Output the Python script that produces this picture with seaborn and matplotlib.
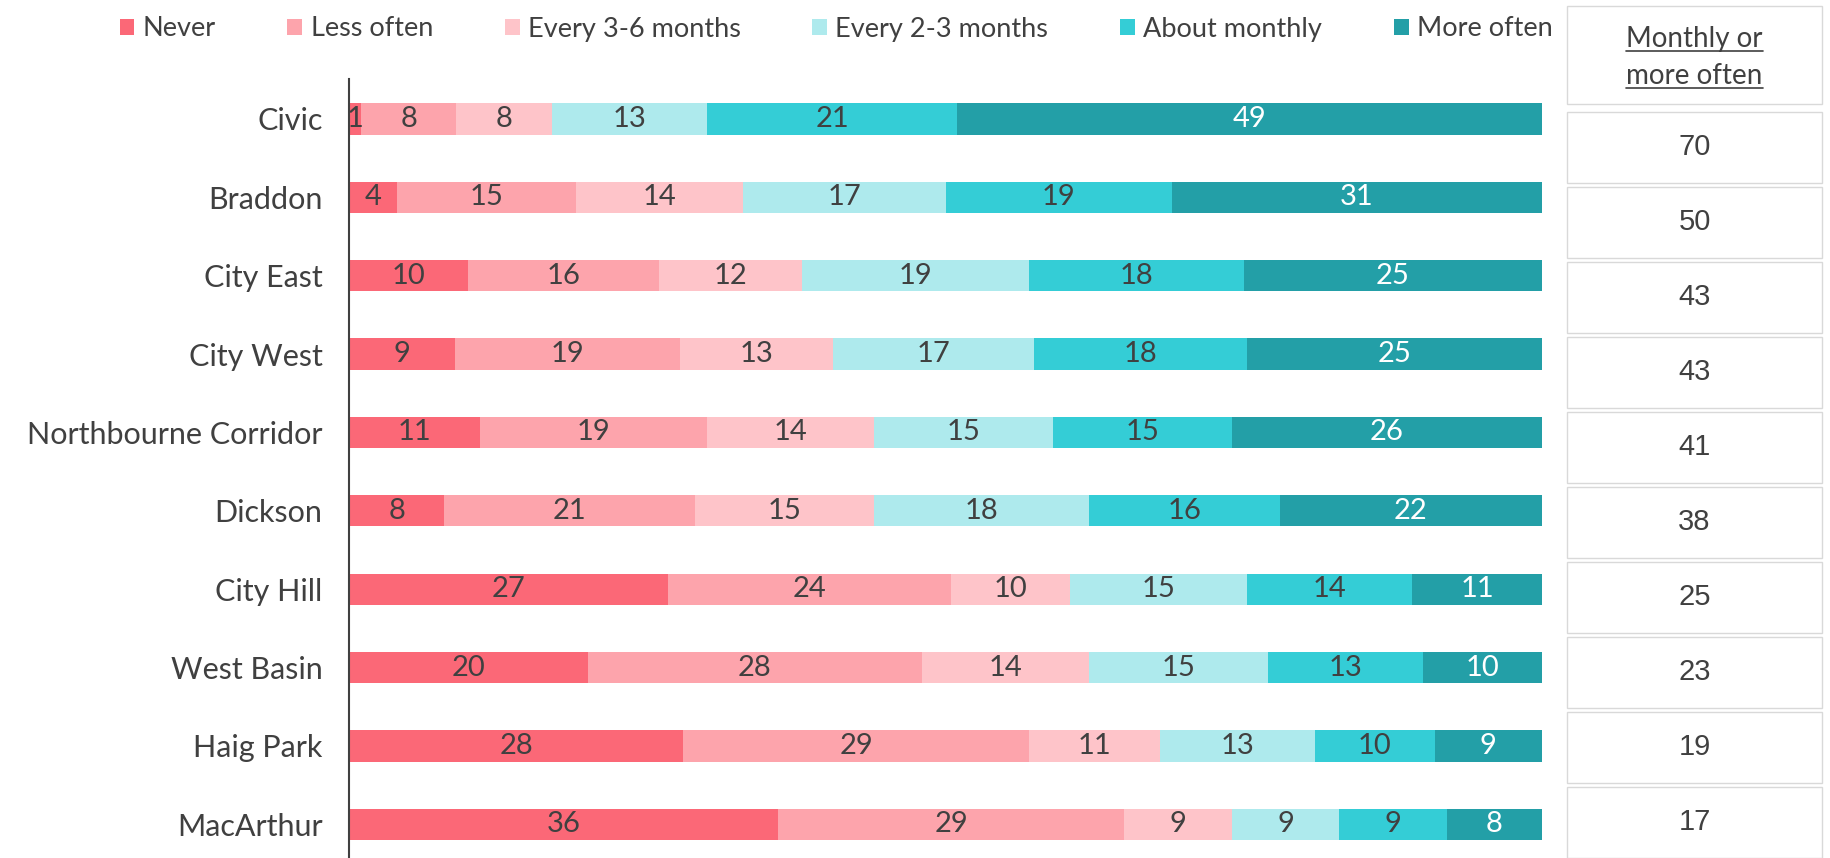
import numpy as np
import matplotlib
matplotlib.use("Agg")
import matplotlib.pyplot as plt
import seaborn as sns
from matplotlib.patches import Patch, Rectangle
from matplotlib.lines import Line2D

# data
locations = ["Civic", "Braddon", "City East", "City West", "Northbourne Corridor",
             "Dickson", "City Hill", "West Basin", "Haig Park", "MacArthur"]
categories = ["Never", "Less often", "Every 3-6 months", "Every 2-3 months",
              "About monthly", "More often"]
never = [1, 4, 10, 9, 11, 8, 27, 20, 28, 36]
less_often = [8, 15, 16, 19, 19, 21, 24, 28, 29, 29]
every_3_6 = [8, 14, 12, 13, 14, 15, 10, 14, 11, 9]
every_2_3 = [13, 17, 19, 17, 15, 18, 15, 15, 13, 9]
about_monthly = [21, 19, 18, 18, 15, 16, 14, 13, 10, 9]
more_often = [49, 31, 25, 25, 26, 22, 11, 10, 9, 8]
monthly_or_more = [70, 50, 43, 43, 41, 38, 25, 23, 19, 17]

colors = ["#FB6877", "#FDA4AC", "#FEC4C9", "#AEEAED", "#34CDD6", "#239FA7"]
label_colors = ["#404040"] * 5 + ["white"]

sns.set_theme(style="white")
plt.rcParams['font.family'] = ['Lato', 'DejaVu Sans']
text_col = "#404040"

vals = np.array([never, less_often, every_3_6, every_2_3, about_monthly, more_often], dtype=float).T
pct = vals / vals.sum(axis=1, keepdims=True) * 100
cum = pct.cumsum(axis=1)

fig = plt.figure(figsize=(18.3, 8.58), dpi=100)
ax = fig.add_axes([349 / 1830, 0, (1542 - 349) / 1830, 1 - 79 / 858])

# stacked bars: draw cumulative totals from the widest down
for i in reversed(range(len(categories))):
    sns.barplot(x=cum[:, i], y=locations, color=colors[i], width=0.4,
                orient="h", linewidth=0, saturation=1, ax=ax)

# value labels
for r in range(len(locations)):
    for i in range(len(categories)):
        mid = cum[r, i] - pct[r, i] / 2
        ax.text(mid, r, f"{int(vals[r, i])}", ha="center", va="center",
                fontsize=21, color=label_colors[i])

ax.set_xlim(0, 100)
ax.set_ylim(9.43, -0.51)
ax.set_xlabel("")
ax.set_ylabel("")
ax.set_xticks([])
sns.despine(ax=ax, top=True, right=True, bottom=True, left=False)
ax.spines["left"].set_color(text_col)
ax.spines["left"].set_linewidth(1.5)
ax.tick_params(axis="y", length=0, pad=19, labelsize=22, labelcolor=text_col)

handles = [Patch(facecolor=c, edgecolor="none") for c in colors]
fig.legend(handles, categories, loc="center", bbox_to_anchor=(836 / 1830, 1 - 29 / 858),
           ncol=6, frameon=False, fontsize=19.5, handlelength=0.55, handleheight=0.55,
           handletextpad=0.3, columnspacing=2.65, labelcolor=text_col)

# table on the right
tab = fig.add_axes([0, 0, 1, 1])
tab.set_xlim(0, 1830)
tab.set_ylim(858, 0)
tab.axis("off")
tab.patch.set_alpha(0)

box_x0, box_x1 = 1567, 1822
tab.add_patch(Rectangle((box_x0, 6), box_x1 - box_x0, 98, facecolor="white",
                        edgecolor="#D9D9D9", linewidth=1))
h1 = tab.text((box_x0 + box_x1) / 2, 39, "Monthly or", ha="center", va="center",
              fontsize=20, color=text_col)
h2 = tab.text((box_x0 + box_x1) / 2, 76, "more often", ha="center", va="center",
              fontsize=20, color=text_col)
for i, v in enumerate(monthly_or_more):
    top = 112 + i * 75
    tab.add_patch(Rectangle((box_x0, top), box_x1 - box_x0, 71, facecolor="white",
                            edgecolor="#D9D9D9", linewidth=1))
    tab.text((box_x0 + box_x1) / 2, top + 35, str(v), ha="center", va="center",
             fontsize=21, color=text_col, family=["Liberation Sans", "DejaVu Sans"])

# underline header
fig.canvas.draw()
inv = tab.transData.inverted()
for t in (h1, h2):
    bb = t.get_window_extent()
    (xa, ya), (xb, yb) = inv.transform([[bb.x0, bb.y0], [bb.x1, bb.y1]])
    tab.add_line(Line2D([xa, xb], [ya - 1, ya - 1], color=text_col, linewidth=1.2))

fig.savefig("out.png", dpi=100)
